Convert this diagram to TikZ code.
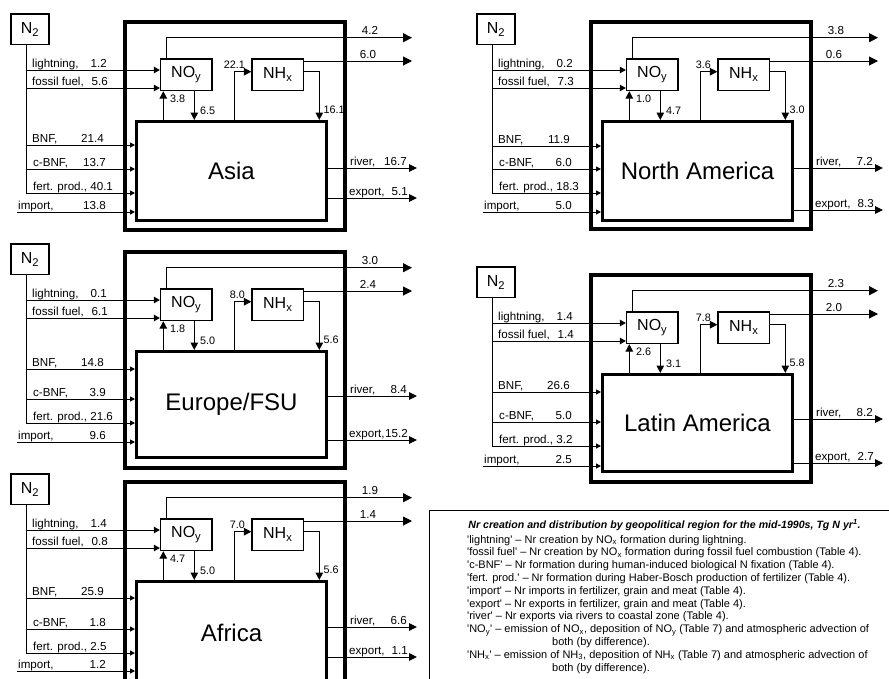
\documentclass[tikz,border=0pt]{standalone}
\usepackage{fontspec}
\setmainfont{Liberation Sans}
\usetikzlibrary{arrows.meta}
\newcommand\tq{\textquotesingle}
\newcommand\panelvals[9]{\def\vLight{#1}\def\vFossil{#2}\def\vBNF{#3}\def\vCBNF{#4}\def\vFert{#5}\def\vImport{#6}\def\vUp{#7}\def\vDown{#8}\def\vNHin{#9}}
\newcommand\panelvalsb[5]{\def\vNHdep{#1}\def\vTopA{#2}\def\vTopB{#3}\def\vRiver{#4}\def\vExport{#5}}
\newcommand\panelgeom[6]{\def\yBNF{#1}\def\yRiver{#2}\def\yExport{#3}\def\yImport{#4}\def\yInBot{#5}\def\yOutBot{#6}}
\tikzset{
 outerbox/.style={draw, line width=4pt, inner sep=0pt},
 innerbox/.style={draw, line width=3pt, inner sep=0pt, font=\fontsize{24}{28}\selectfont},
 specbox/.style={draw, line width=1.3pt, inner sep=0pt, minimum width=51.5pt, minimum height=31.5pt, font=\fontsize{16}{18}\selectfont},
 nbox/.style={draw, line width=1.3pt, inner sep=0pt, minimum width=38pt, minimum height=30.5pt, font=\fontsize{16}{18}\selectfont},
 lab/.style={inner sep=0pt, font=\fontsize{11.6}{13}\selectfont},
 slab/.style={inner sep=0pt, font=\fontsize{10.8}{12}\selectfont},
 flow/.style={line width=1pt},
 inarrow/.style={flow, -{Triangle[length=5pt,width=5pt]}},
 noyarrow/.style={flow, -{Triangle[length=6pt,width=6.5pt]}},
 vflow/.style={line width=1.3pt, -{Triangle[length=7.5pt,width=7.5pt]}},
 outarrow/.style={flow, -{Triangle[length=9pt,width=9pt]}},
 sidearrow/.style={flow, -{Triangle[length=8pt,width=7.5pt]}},
 legbox/.style={draw, line width=1.3pt, inner sep=0pt},
 legtext/.style={inner sep=0pt, font=\fontsize{11}{12.8}\selectfont},
 legtitle/.style={inner sep=0pt, font=\fontsize{10.6}{12}\selectfont\bfseries\itshape},
}
\newcommand\regionpanel[4]{%
\begin{scope}[shift={(#2,#3)}]
\pgfmathsetmacro\inCy{(121.5+\yInBot)/2}
\pgfmathsetmacro\inH{\yInBot-121.5}
\pgfmathsetmacro\outCy{(22+\yOutBot)/2}
\pgfmathsetmacro\outH{\yOutBot-22}
\node[outerbox, minimum width=220pt, minimum height=\outH pt] (#1outer) at (235,\outCy) {};
\node[innerbox, minimum width=190pt, minimum height=\inH pt] (#1inner) at (231.5,\inCy) {#4};
\node[specbox] (#1noy) at (186.25,74.75) {NO\textsubscript{y}};
\node[specbox] (#1nhx) at (277.75,74.75) {NH\textsubscript{x}};
\node[nbox] (#1ntwo) at (30,29.25) {N\textsubscript{2}};
% trunk and inputs
\coordinate (#1tk) at (26,193);
\draw[flow] (#1ntwo.south -| #1tk) -- (#1tk);
\draw[noyarrow] (#1tk |- 0,70) -- (#1noy.west |- 0,70);
\draw[noyarrow] (#1tk |- 0,88) -- (#1noy.west |- 0,88);
\draw[inarrow] (#1tk |- 0,\yBNF) -- (#1inner.west |- 0,\yBNF);
\draw[inarrow] (#1tk |- 0,169) -- (#1inner.west |- 0,169);
\draw[inarrow] (#1tk) -- (#1inner.west |- #1tk);
\coordinate (#1imp) at (17,\yImport);
\draw[inarrow] (#1imp) -- (#1inner.west |- #1imp);
% exchanges
\draw[vflow] (#1inner.north -| 163.3,0) -- (#1noy.south -| 163.3,0);
\draw[vflow] (#1noy.south -| 194.3,0) -- (#1inner.north -| 194.3,0);
\draw[vflow] (#1inner.north -| 234.3,0) |- (#1nhx.west |- 0,71.7);
\draw[vflow] (#1nhx.east |- 0,71.7) -| (#1inner.north -| 319.3,0);
\coordinate (#1oa) at (412,37.7);
\draw[outarrow] (#1noy.north -| 166.7,0) |- (#1oa);
\coordinate (#1ob) at (412,61);
\draw[outarrow] (#1nhx.east |- #1ob) -- (#1ob);
\coordinate (#1or) at (417,\yRiver);
\draw[sidearrow] (#1inner.east |- #1or) -- (#1or);
\coordinate (#1oe) at (417,\yExport);
\draw[sidearrow] (#1inner.east |- #1oe) -- (#1oe);
% labels
\node[lab, anchor=base west] (#1la) at (32,67) {lightning,};
\node[lab, anchor=base east] (#1va) at (107,67) {\vLight};
\node[lab, anchor=base west] (#1lb) at (32,85) {fossil fuel,};
\node[lab, anchor=base east] (#1vb) at (108,85) {\vFossil};
\node[lab, anchor=base west] (#1lc) at (32,\yBNF-3) {BNF,};
\node[lab, anchor=base east] (#1vc) at (104,\yBNF-3) {\vBNF};
\node[lab, anchor=base west] (#1ld) at (33,166) {c-BNF,};
\node[lab, anchor=base east] (#1vd) at (106,166) {\vCBNF};
\node[lab, anchor=base west] (#1le) at (33,190) {fert. prod., \vFert};
\node[lab, anchor=base west] (#1lf) at (18,\yImport-3) {import,};
\node[lab, anchor=base east] (#1vf) at (106,\yImport-3) {\vImport};
\node[slab, anchor=base west] (#1vup) at (170,102.7) {\vUp};
\node[slab, anchor=base west] (#1vdn) at (200,114) {\vDown};
\node[slab, anchor=base east] (#1vnhi) at (245,68.3) {\vNHin};
\node[slab, anchor=base west] (#1vnhd) at (323.5,113.3) {\vNHdep};
\node[lab, anchor=base] (#1vta) at (370,34.3) {\vTopA};
\node[lab, anchor=base] (#1vtb) at (368,58.3) {\vTopB};
\node[lab, anchor=base west] (#1lr) at (350,\yRiver-2.5) {river,};
\node[lab, anchor=base east] (#1vr) at (407,\yRiver-2.5) {\vRiver};
\node[lab, anchor=base west] (#1lx) at (349,\yExport-2.5) {export,};
\node[lab, anchor=base east] (#1vx) at (408,\yExport-2.5) {\vExport};
\end{scope}}
\begin{document}
\begin{tikzpicture}[x=1pt,y=-1pt]
\useasboundingbox (0,0) rectangle (889,678);
\clip (0,0) rectangle (889,678);
% Asia
\panelvals{1.2}{5.6}{21.4}{13.7}{40.1}{13.8}{3.8}{6.5}{22.1}
\panelvalsb{16.1}{4.2}{6.0}{16.7}{5.1}
\panelgeom{145}{168}{198}{212}{220}{230}
\regionpanel{as}{0}{0}{Asia}
% North America
\panelvals{0.2}{7.3}{11.9}{6.0}{18.3}{5.0}{1.0}{4.7}{3.6}
\panelvalsb{3.0}{3.8}{0.6}{7.2}{8.3}
\panelgeom{146}{168}{210}{212}{220}{229}
\regionpanel{na}{466}{0}{North America}
% Europe/FSU
\panelvals{0.1}{6.1}{14.8}{3.9}{21.6}{9.6}{1.8}{5.0}{8.0}
\panelvalsb{5.6}{3.0}{2.4}{8.4}{15.2}
\panelgeom{139}{166}{210}{212}{227}{238}
\regionpanel{eu}{0}{230}{Europe/FSU}
% Latin America
\panelvals{1.4}{1.4}{26.6}{5.0}{3.2}{2.5}{2.6}{3.1}{7.8}
\panelvalsb{5.8}{2.3}{2.0}{8.2}{2.7}
\panelgeom{139}{166}{210}{213}{218}{229}
\regionpanel{la}{466}{253}{Latin America}
% Africa
\panelvals{1.4}{0.8}{25.9}{1.8}{2.5}{1.2}{4.7}{5.0}{7.0}
\panelvalsb{5.6}{1.9}{1.4}{6.6}{1.1}
\panelgeom{138}{167}{197}{211}{224}{235}
\regionpanel{af}{0}{460}{Africa}
% legend
\node[legbox, anchor=north west, minimum width=480pt, minimum height=200pt] (legbox) at (429,510) {};
\node[legtitle, anchor=base] (legtitle) at (664.5,528) {Nr creation and distribution by geopolitical region for the mid-1990s, Tg N yr\textsuperscript{1}.};
\node[legtext, anchor=base west] (lg1) at (467,543) {\tq lightning\tq\ – Nr creation by NO\textsubscript{x} formation during lightning.};
\node[legtext, anchor=base west] (lg2) at (467,555.8) {\tq fossil fuel\tq\ – Nr creation by NO\textsubscript{x} formation during fossil fuel combustion (Table 4).};
\node[legtext, anchor=base west] (lg3) at (467,568.6) {\tq c-BNF\tq\ – Nr formation during human-induced biological N fixation (Table 4).};
\node[legtext, anchor=base west] (lg4) at (467,581.4) {\tq fert. prod.\tq\ – Nr formation during Haber-Bosch production of fertilizer (Table 4).};
\node[legtext, anchor=base west] (lg5) at (467,594.2) {\tq import\tq\ – Nr imports in fertilizer, grain and meat (Table 4).};
\node[legtext, anchor=base west] (lg6) at (467,607) {\tq export\tq\ – Nr exports in fertilizer, grain and meat (Table 4).};
\node[legtext, anchor=base west] (lg7) at (467,619.8) {\tq river\tq\ – Nr exports via rivers to coastal zone (Table 4).};
\node[legtext, anchor=base west] (lg8) at (467,632.6) {\tq NO\textsubscript{y}\tq\ – emission of NO\textsubscript{x}, deposition of NO\textsubscript{y} (Table 7) and atmospheric advection of};
\node[legtext, anchor=base west] (lg9) at (552,645.4) {both (by difference).};
\node[legtext, anchor=base west] (lg10) at (467,658.2) {\tq NH\textsubscript{x}\tq\ – emission of NH\textsubscript{3}, deposition of NH\textsubscript{x} (Table 7) and atmospheric advection of};
\node[legtext, anchor=base west] (lg11) at (552,671) {both (by difference).};
\end{tikzpicture}
\end{document}
